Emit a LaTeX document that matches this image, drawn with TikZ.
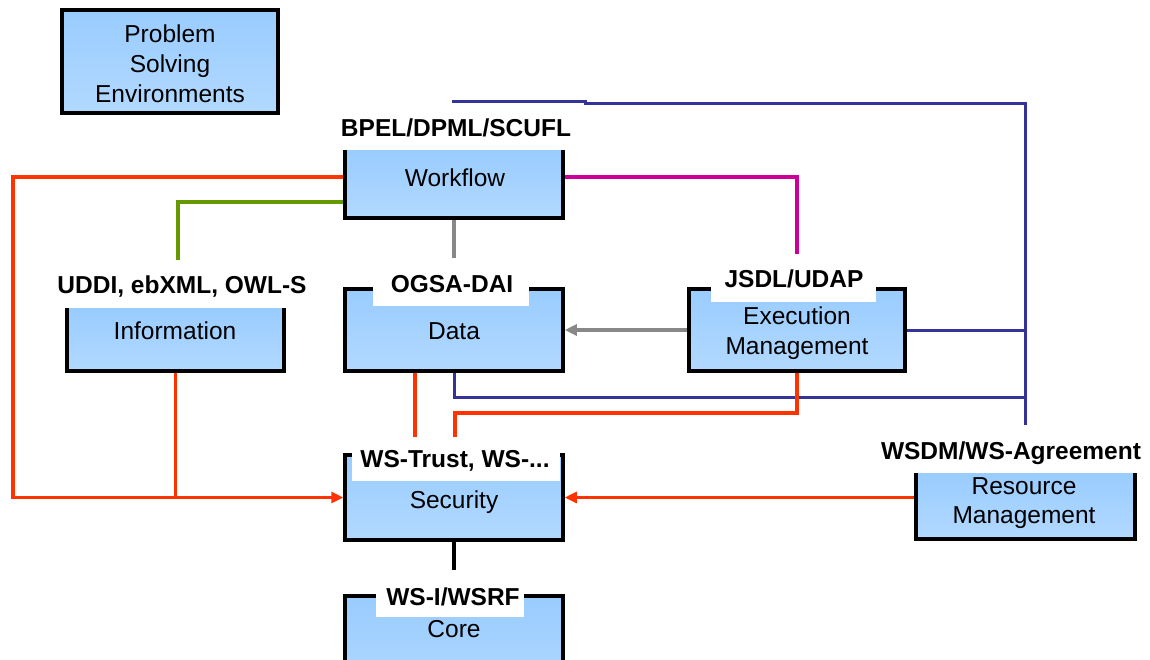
\documentclass[tikz,border=0pt]{standalone}
\usepackage{fontspec}
\setmainfont{Liberation Sans}
\usetikzlibrary{arrows.meta}
\definecolor{cOrange}{RGB}{255,51,0}
\definecolor{cBlue}{RGB}{51,51,153}
\definecolor{cMag}{RGB}{204,0,153}
\definecolor{cGreen}{RGB}{102,153,0}
\definecolor{cGray}{RGB}{136,136,136}
\definecolor{boxTop}{RGB}{153,204,255}
\definecolor{boxBot}{RGB}{178,217,255}
\pgfdeclarelayer{bg}
\pgfsetlayers{bg,main}
\begin{document}
\begin{tikzpicture}[x=1pt,y=-1pt,
  boxfill/.style={rectangle, inner sep=0pt, outer sep=0pt, top color=boxTop, bottom color=boxBot, draw=none},
  fullbox/.style={rectangle, inner sep=0pt, top color=boxTop, bottom color=boxBot, draw=black, line width=3.5pt},
  rim/.style={draw=black, line width=3.5pt, line join=miter},
  lbl/.style={rectangle, fill=white, draw=none, inner sep=0pt, outer sep=0pt},
  txt/.style={font=\fontsize{24.5}{30}\selectfont, inner sep=0pt, outer sep=0pt, anchor=base},
  btxt/.style={font=\fontsize{24.5}{30}\selectfont\bfseries, inner sep=0pt, outer sep=0pt, anchor=base},
  conn/.style={line width=3.5pt, line join=miter},
  tip/.style={-{Triangle[length=12pt,width=11pt]}}
]
\useasboundingbox (0,0) rectangle (1150,659);
\clip (0,0) rectangle (1150,659);

% boxes
\node[fullbox, minimum width=216pt, minimum height=103pt] (pse) at (170,61.5) {};
\node[boxfill, minimum width=218pt, minimum height=68pt] (wf) at (454,184) {};
\node[boxfill, minimum width=217pt, minimum height=63pt] (info) at (175.5,339.5) {};
\node[fullbox, minimum width=218pt, minimum height=82pt] (data) at (454,330) {};
\node[fullbox, minimum width=216pt, minimum height=82pt] (exec) at (797,330) {};
\node[fullbox, minimum width=218pt, minimum height=85pt] (sec) at (454,497.5) {};
\node[fullbox, minimum width=218pt, minimum height=104pt] (core) at (454,648) {};
\node[boxfill, minimum width=219pt, minimum height=66pt] (res) at (1025.5,506) {};

\draw[rim] (wf.north west) -- (wf.south west) -- (wf.south east) -- (wf.north east);
\draw[rim] (info.north west) -- (info.south west) -- (info.south east) -- (info.north east);
\draw[rim] (res.north west) -- (res.south west) -- (res.south east) -- (res.north east);

% coordinates for connector bends / free ends
\coordinate (bA) at (452,101.5);
\coordinate (bB) at (585,101.5);
\coordinate (bC) at (585,103);
\coordinate (bD) at (1025,103);
\coordinate (bE) at (1025,425);
\coordinate (bF) at (1025,397);
\coordinate (oB) at (13,497.5);
\coordinate (gEnd) at (178,260);
\coordinate (gyEnd) at (454,258);
\coordinate (mEnd) at (797,254);
\coordinate (eo) at (455,413);
\coordinate (kEnd) at (454,570);

\begin{pgfonlayer}{bg}
  % blue
  \draw[conn, cBlue, line width=3pt] (bA) -- (bB) -- (bC) -- (bD) -- (bE);
  \draw[conn, cBlue, line width=3pt] (exec.east) -- (exec.east -| bD);
  \draw[conn, cBlue, line width=3pt] (data.south) |- (bF);
  % magenta
  \draw[conn, cMag] ([yshift=7pt]wf.east) -| (mEnd);
  % green
  \draw[conn, cGreen] ([yshift=-18pt]wf.west) -| (gEnd);
  % gray
  \draw[conn, cGray] (wf.south) -- (gyEnd);
  \draw[conn, cGray, tip] (exec.west) -- (data.east);
  % orange
  \draw[conn, cOrange, tip] ([yshift=7pt]wf.west) -| (oB) -- (sec.west);
  \draw[conn, cOrange] (info.south) -- (info.south |- oB);
  \draw[conn, cOrange] ([xshift=-39pt]data.south) -- ([xshift=-39pt]sec.north);
  \draw[conn, cOrange] (exec.south) |- (eo) -- (eo |- sec.north);
  \draw[conn, cOrange, tip] (res.west |- sec.east) -- (sec.east);
  % black
  \draw[conn, black] (sec.south) -- (kEnd);
\end{pgfonlayer}

% white label patches
\node[lbl, minimum width=156pt, minimum height=44pt] (dataL) at (451,284) {};
\node[lbl, minimum width=165pt, minimum height=46pt] (execL) at (793.5,279) {};
\node[lbl, minimum width=208pt, minimum height=44pt] (secL) at (456,459) {};
\node[lbl, minimum width=148pt, minimum height=45pt] (coreL) at (450,594.5) {};

% texts
\node[txt] (t1) at (170,42) {Problem};
\node[txt] (t2) at (170,72) {Solving};
\node[txt] (t3) at (170,102) {Environments};
\node[btxt] (lwf) at (456,136) {BPEL/DPML/SCUFL};
\node[txt] (twf) at (455,186) {Workflow};
\node[btxt] (linfo) at (182,293) {UDDI, ebXML, OWL-S};
\node[txt] (tinfo) at (175,339) {Information};
\node[btxt] (ldata) at (452,292) {OGSA-DAI};
\node[txt] (tdata) at (454,339) {Data};
\node[btxt] (lexec) at (794,287) {JSDL/UDAP};
\node[txt] (texec1) at (797,324) {Execution};
\node[txt] (texec2) at (797,354) {Management};
\node[btxt] (lsec) at (455,467) {WS-Trust, WS-...};
\node[txt] (tsec) at (454,508) {Security};
\node[btxt] (lcore) at (453,605) {WS-I/WSRF};
\node[txt] (tcore) at (454,637) {Core};
\node[btxt] (lres) at (1011,459) {WSDM/WS-Agreement};
\node[txt] (tres1) at (1024,494) {Resource};
\node[txt] (tres2) at (1024,523) {Management};
\end{tikzpicture}
\end{document}
